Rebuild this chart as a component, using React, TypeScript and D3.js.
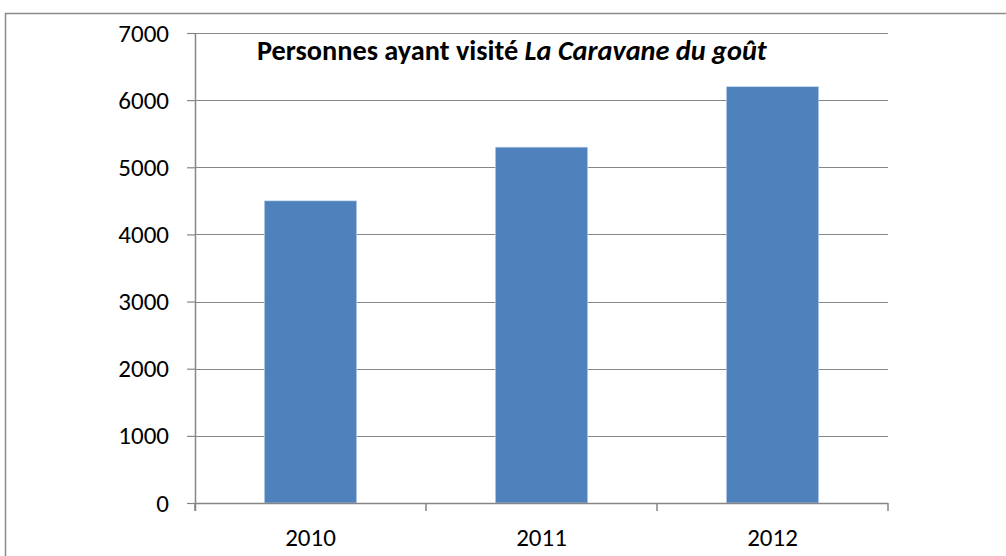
import React, { useEffect, useRef } from 'react';
import * as d3 from 'd3';

const years = ['2010', '2011', '2012'];
const visitors = [4500, 5300, 6200];
const yTicks = [0, 1000, 2000, 3000, 4000, 5000, 6000, 7000];

const FONT = "Carlito, Calibri, Lato, 'Open Sans', sans-serif";

const App = () => {
  const ref = useRef<SVGSVGElement>(null);

  useEffect(() => {
    const W = 1006, H = 556;
    const margin = { top: 33, right: 118, bottom: 53, left: 195 };
    const width = W - margin.left - margin.right;
    const height = H - margin.top - margin.bottom;

    const svg = d3.select(ref.current);
    svg.selectAll('*').remove();

    // outer chart frame (only top and left edges show in the crop)
    svg.append('path')
      .attr('d', `M5.5,${H} V13.5 H${W}`)
      .attr('fill', 'none')
      .attr('stroke', '#8a8a8a')
      .attr('stroke-width', 1.5);

    const g = svg.append('g')
      .attr('transform', `translate(${margin.left},${margin.top})`);

    const x = d3.scaleBand().domain(years).range([0, width]).paddingInner(0.6).paddingOuter(0.3);
    const y = d3.scaleLinear().domain([0, 7000]).range([height, 0]);

    // gridlines
    g.selectAll('.grid')
      .data(yTicks.filter(d => d > 0))
      .join('line')
      .attr('x1', 0)
      .attr('x2', width)
      .attr('y1', d => Math.round(y(d)) + 0.5)
      .attr('y2', d => Math.round(y(d)) + 0.5)
      .attr('stroke', '#868686')
      .attr('stroke-width', 1.2);

    // bars
    g.selectAll('.bar')
      .data(visitors)
      .join('rect')
      .attr('x', (d, i) => x(years[i])!)
      .attr('y', d => y(d))
      .attr('width', x.bandwidth())
      .attr('height', d => height - y(d))
      .attr('fill', '#4f81bd')
      .attr('stroke', '#c6d9f1')
      .attr('stroke-width', 0.6);

    // y axis
    const yAxis = g.append('g')
      .call(d3.axisLeft(y).tickValues(yTicks).tickSize(8).tickPadding(18).tickFormat(d3.format('d')));
    yAxis.select('.domain').remove();
    yAxis.selectAll('line').attr('stroke', '#868686').attr('stroke-width', 1.2);
    yAxis.selectAll('text')
      .attr('font-family', FONT)
      .attr('font-size', 25)
      .attr('fill', '#000');
    g.append('line')
      .attr('x1', 0.5).attr('x2', 0.5)
      .attr('y1', 0).attr('y2', height + 8)
      .attr('stroke', '#868686')
      .attr('stroke-width', 1.5);

    // x axis (ticks between categories)
    const step = width / years.length;
    g.append('line')
      .attr('x1', 0).attr('x2', width)
      .attr('y1', height + 0.5).attr('y2', height + 0.5)
      .attr('stroke', '#868686')
      .attr('stroke-width', 1.5);
    g.selectAll('.xtick')
      .data(d3.range(years.length + 1))
      .join('line')
      .attr('x1', d => d * step)
      .attr('x2', d => d * step)
      .attr('y1', height)
      .attr('y2', height + 8)
      .attr('stroke', '#868686')
      .attr('stroke-width', 1.5);
    g.selectAll('.xlabel')
      .data(years)
      .join('text')
      .attr('x', d => x(d)! + x.bandwidth() / 2)
      .attr('y', height + 43)
      .attr('text-anchor', 'middle')
      .attr('font-family', FONT)
      .attr('font-size', 25)
      .attr('fill', '#000')
      .text(d => d);

    // title
    const title = svg.append('text')
      .attr('x', 257)
      .attr('y', 60)
      .attr('font-family', FONT)
      .attr('font-size', 28.3)
      .attr('font-weight', 'bold')
      .attr('fill', '#000');
    title.append('tspan').text('Personnes ayant visité ');
    title.append('tspan').attr('font-style', 'italic').text('La Caravane du goût');
  }, []);

  return (
    <svg ref={ref} width={1006} height={556}
      style={{ position: 'absolute', left: 0, top: 0, background: '#fff' }} />
  );
};

export default App;
